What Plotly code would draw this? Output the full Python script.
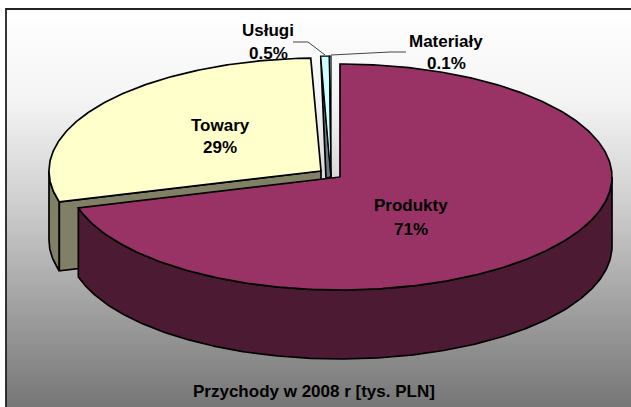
import numpy as np
import plotly.graph_objects as go

# --- data -------------------------------------------------------------
categories = ["Produkty", "Towary", "Usługi", "Materiały"]
shares = [70.6, 28.8, 0.5, 0.1]
label_decimals = [0, 0, 1, 1]
chart_title = "Przychody w 2008 r [tys. PLN]"

# --- style ------------------------------------------------------------
top_colors = ["#993366", "#FFFFCC", "#CCFFFF", "#CCFFFF"]
side_colors = ["#4D1A33", "#808066", "#668080", "#668080"]
FONT = "Liberation Sans"
W, H = 631, 407
RX, RY, DEPTH = 272, 113, 69
apexes = [(340, 177), (321, 171), (331, 177), (331, 177)]
small_ry = 121
label_pos = [(411, 205, 229), (220, 125, 147), (268, 30, 53), (446, 41, 63)]
STROKE = 1.7

cum = np.cumsum([0] + shares) / sum(shares) * 2 * np.pi
spans = list(zip(cum[:-1], cum[1:]))


def arc(center, t0, t1, ry=RY, dy=0):
    t = np.linspace(t0, t1, max(2, int((t1 - t0) * 90)))
    return center[0] + RX * np.sin(t), center[1] - ry * np.cos(t) + dy


def poly(xs, ys, color, width=STROKE):
    xs, ys = list(xs), list(ys)
    return go.Scatter(x=xs + xs[:1], y=ys + ys[:1], mode="lines", fill="toself",
                      fillcolor=color, line=dict(color="black", width=width),
                      hoverinfo="skip", showlegend=False)


fig = go.Figure()

# background panel with vertical gradient
band_edges = np.linspace(9, H, 200)
band_mid = (band_edges[:-1] + band_edges[1:]) / 2
fig.add_trace(go.Heatmap(
    x=[6, W], y=band_edges, z=band_mid[:, None], zmin=9, zmax=H, showscale=False,
    hoverinfo="skip",
    colorscale=[[0, "#FFFFFF"], [0.23, "#F4F4F4"], [0.48, "#D0D0D0"], [0.73, "#A4A4A4"], [1, "#767676"]]))
fig.add_trace(go.Scatter(x=[6, 6, W], y=[H, 9, 9], mode="lines",
                         line=dict(color="#222222", width=1.8),
                         hoverinfo="skip", showlegend=False))

# Towary: outer wall, cut wall, top
t0, t1 = spans[1]
ax, ay = apexes[1]
ox, oy = arc(apexes[1], t0, 1.5 * np.pi)
fig.add_trace(poly(list(ox) + list(ox[::-1]), list(oy) + list(oy[::-1] + DEPTH), side_colors[1]))
cx, cy = arc(apexes[1], t0, t0)
fig.add_trace(poly([cx[0], ax, ax, cx[0]], [cy[0], ay, ay + DEPTH, cy[0] + DEPTH], side_colors[1]))
tx, ty = arc(apexes[1], t0, t1)
fig.add_trace(poly([ax] + list(tx), [ay] + list(ty), top_colors[1]))

# Usługi + Materiały: cut wall and tops
a2 = apexes[2]
ux, uy = arc(a2, spans[2][0], spans[2][0], ry=small_ry)
fig.add_trace(poly([ux[0], a2[0], a2[0] - 5], [uy[0], a2[1], a2[1] + 1], side_colors[2]))
for i in (2, 3):
    sx, sy = arc(apexes[i], spans[i][0], spans[i][1], ry=small_ry)
    fig.add_trace(poly([apexes[i][0]] + list(sx), [apexes[i][1]] + list(sy), top_colors[i], 1.2))

# Produkty: outer wall, top
t0, t1 = spans[0]
a0 = apexes[0]
wx, wy = arc(a0, 0.5 * np.pi, t1)
fig.add_trace(poly(list(wx) + list(wx[::-1]), list(wy) + list(wy[::-1] + DEPTH), side_colors[0]))
px, py = arc(a0, t0, t1)
fig.add_trace(poly([a0[0]] + list(px), [a0[1]] + list(py), top_colors[0]))

# leader lines
for xs, ys in [([293, 308, 325], [42, 42, 55]), ([406, 390, 331], [52, 52, 55])]:
    fig.add_trace(go.Scatter(x=xs, y=ys, mode="lines", line=dict(color="#444444", width=1),
                             hoverinfo="skip", showlegend=False))

# labels
annotations = []
font = dict(family=FONT, size=17, color="#000000", weight="bold")
for name, share, dec, (lx, ly1, ly2) in zip(categories, shares, label_decimals, label_pos):
    annotations.append(dict(x=lx, y=ly1, text=f"<b>{name}</b>", font=font, showarrow=False))
    annotations.append(dict(x=lx, y=ly2, text=f"<b>{share:.{dec}f}%</b>", font=font, showarrow=False))
annotations.append(dict(x=314, y=391, text=f"<b>{chart_title}</b>", font=font, showarrow=False))

fig.update_layout(
    width=W, height=H, margin=dict(l=0, r=0, t=0, b=0),
    paper_bgcolor="white", plot_bgcolor="white", showlegend=False,
    xaxis=dict(range=[0, W], visible=False, fixedrange=True),
    yaxis=dict(range=[H, 0], visible=False, fixedrange=True),
    annotations=annotations, hovermode=False,
)
fig.write_html("out.html", config=dict(displayModeBar=False),
               post_script="document.body.style.margin='0';document.documentElement.style.overflow='hidden';")
